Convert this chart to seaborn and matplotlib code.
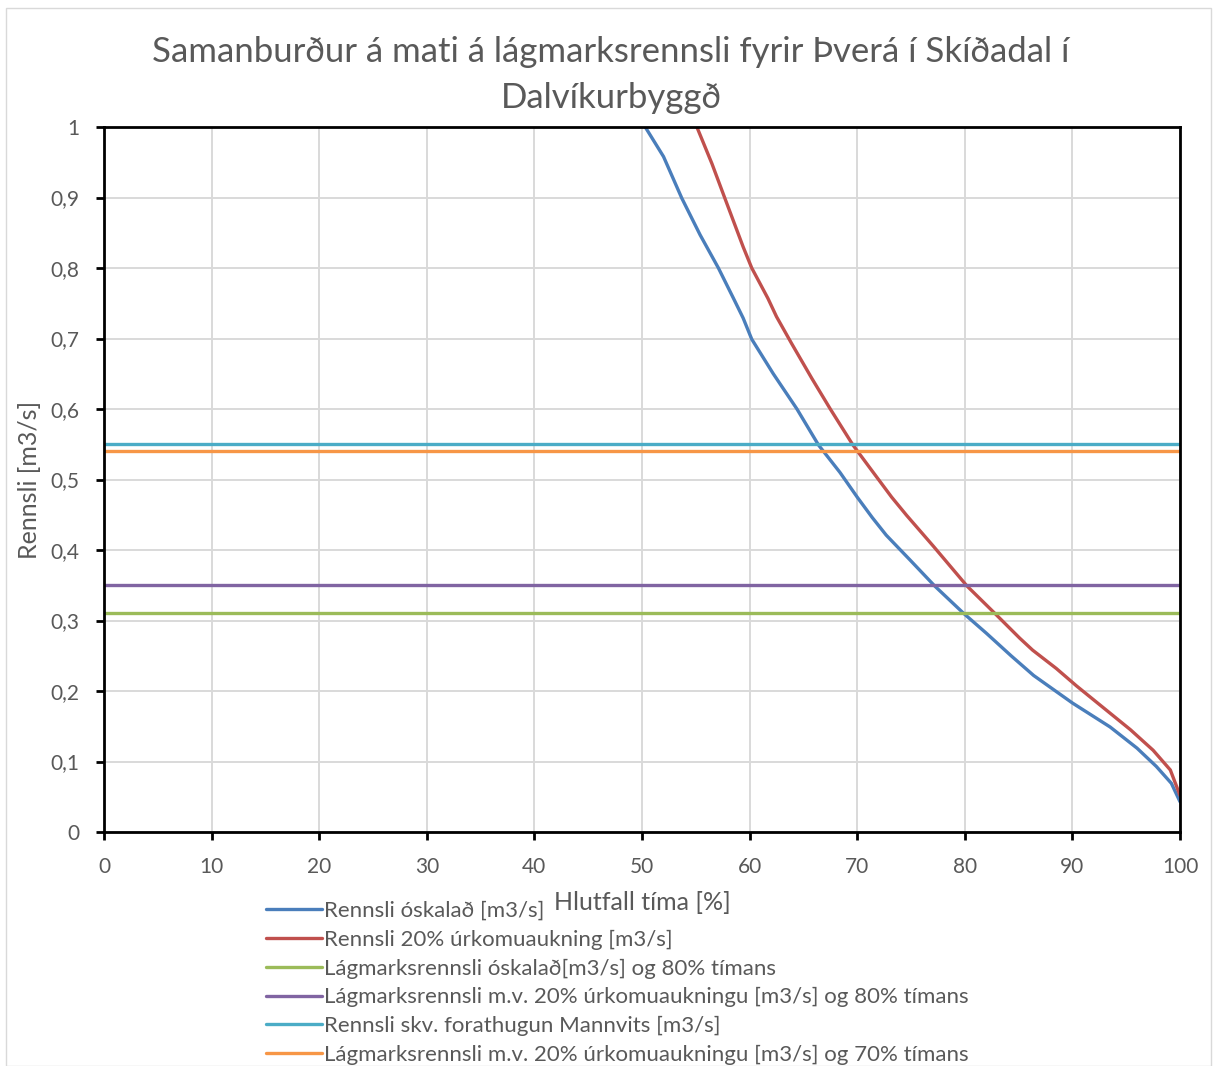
import matplotlib
matplotlib.use("Agg")
import matplotlib.pyplot as plt
import seaborn as sns
import pandas as pd
from matplotlib.patches import Rectangle

# ---- data ----
blue_x = [50.3, 52.0, 53.7, 55.4, 57.1, 58.5, 59.4, 60.2, 62.2, 64.4, 66.4, 68.4, 70.0, 71.4,
          72.7, 74.9, 77.2, 79.9, 82.0, 84.3, 86.4, 90.0, 93.5, 96.0, 97.8, 99.2, 100.0]
blue_y = [1.0, 0.958, 0.899, 0.847, 0.80, 0.757, 0.729, 0.699, 0.650, 0.60, 0.549, 0.510, 0.475, 0.446,
          0.421, 0.386, 0.349, 0.310, 0.282, 0.250, 0.222, 0.183, 0.149, 0.119, 0.093, 0.069, 0.043]
red_x = [55.1, 56.5, 57.7, 59.4, 60.2, 61.7, 62.5, 63.9, 65.8, 67.5, 69.6, 71.2, 73.2, 74.6,
         77.1, 80.2, 82.8, 85.1, 86.3, 88.5, 90.4, 92.9, 95.4, 97.5, 99.1, 100.0]
red_y = [1.0, 0.948, 0.899, 0.830, 0.80, 0.757, 0.731, 0.693, 0.643, 0.60, 0.549, 0.516, 0.475, 0.449,
         0.405, 0.349, 0.310, 0.275, 0.258, 0.232, 0.207, 0.176, 0.145, 0.116, 0.088, 0.052]
h_x = [0, 100]
green_val = 0.31
purple_val = 0.35
cyan_val = 0.55
orange_val = 0.54

labels = [
    "Rennsli óskalað [m3/s]",
    "Rennsli 20% úrkomuaukning [m3/s]",
    "Lágmarksrennsli óskalað[m3/s] og 80% tímans",
    "Lágmarksrennsli m.v. 20% úrkomuaukningu [m3/s] og 80% tímans",
    "Rennsli skv. forathugun Mannvits [m3/s]",
    "Lágmarksrennsli m.v. 20% úrkomuaukningu [m3/s] og 70% tímans",
]
colors = ["#4a7ebb", "#c0504d", "#9bbb59", "#8064a2", "#4bacc6", "#f79646"]
x_ticks = [0, 10, 20, 30, 40, 50, 60, 70, 80, 90, 100]
y_ticks = [0, 0.1, 0.2, 0.3, 0.4, 0.5, 0.6, 0.7, 0.8, 0.9, 1.0]
y_tick_labels = ["0", "0,1", "0,2", "0,3", "0,4", "0,5", "0,6", "0,7", "0,8", "0,9", "1"]
title_lines = ["Samanburður á mati á lágmarksrennsli fyrir Þverá í Skíðadal í", "Dalvíkurbyggð"]

sns.set_theme(style="white")
plt.rcParams['font.family'] = ['Lato', 'DejaVu Sans']
txt = "#595959"

W, H = 1213, 1066
fig = plt.figure(figsize=(W/100, H/100), dpi=100)
ax = fig.add_axes([104/W, 1 - 832/H, (1180-104)/W, (832-127)/H])

series = [
    (blue_x, blue_y),
    (red_x, red_y),
    (h_x, [green_val]*2),
    (h_x, [purple_val]*2),
    (h_x, [cyan_val]*2),
    (h_x, [orange_val]*2),
]
for (xs, ys), lab, c in zip(series, labels, colors):
    df = pd.DataFrame({"x": xs, "y": ys})
    sns.lineplot(data=df, x="x", y="y", ax=ax, color=c, linewidth=2.4, label=lab,
                 estimator=None, sort=False, legend=False)

ax.set_xlim(0, 100)
ax.set_ylim(0, 1)
ax.set_xticks(x_ticks)
ax.set_xticklabels([str(t) for t in x_ticks])
ax.set_yticks(y_ticks)
ax.set_yticklabels(y_tick_labels)
ax.grid(True, color="#d9d9d9", linewidth=1.4)
ax.set_axisbelow(True)
for s in ax.spines.values():
    s.set_color("black")
    s.set_linewidth(2)
ax.tick_params(axis="both", direction="out", length=6, width=2, color="black",
               labelsize=15, labelcolor=txt)
ax.tick_params(axis="x", bottom=True, pad=12)
ax.tick_params(axis="y", left=True, pad=12)
ax.set_xlabel("")
ax.set_ylabel("")

fig.text(611/W, 1 - 52/H, title_lines[0], ha="center", va="center", fontsize=25, color=txt)
fig.text(611/W, 1 - 98/H, title_lines[1], ha="center", va="center", fontsize=25, color=txt)
fig.text(30/W, 1 - 480/H, "Rennsli [m3/s]", rotation=90, ha="center", va="center",
         fontsize=18, color=txt)
fig.text(642/W, 1 - 903/H, "Hlutfall tíma [%]", ha="center", va="center",
         fontsize=18, color=txt)

h, l = ax.get_legend_handles_labels()
leg = fig.legend(h, l, loc="upper left", bbox_to_anchor=(266/W, 1 - 901/H),
                 frameon=False, fontsize=16, handlelength=2.5, handletextpad=0.12,
                 labelspacing=0.39, borderaxespad=0, borderpad=0)
for t in leg.get_texts():
    t.set_color(txt)

fig.patches.append(Rectangle((6/W, 0), 1205/W, 1 - 8/H, transform=fig.transFigure,
                             fill=False, edgecolor="#d9d9d9", linewidth=1))

fig.savefig("out.png", dpi=100)
